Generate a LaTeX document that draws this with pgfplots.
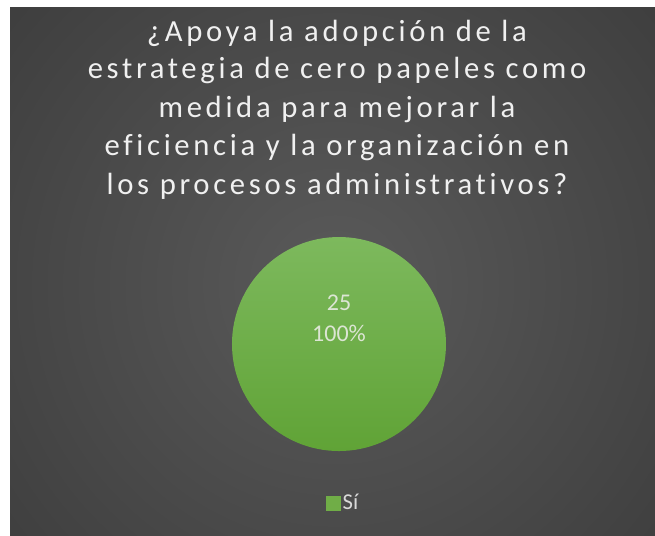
\documentclass[border=0pt]{standalone}
\usepackage{pgfplots}
\pgfplotsset{compat=1.18}
\usepackage{fontspec}
\setmainfont{Carlito}
\newfontfamily\titlefont[LetterSpace=12,Ligatures={NoCommon}]{Carlito}
\definecolor{bgIn}{HTML}{5A5A5A}
\definecolor{bgOut}{HTML}{242424}
\definecolor{pieTop}{HTML}{7DB95D}
\definecolor{pieBot}{HTML}{60A336}
\definecolor{pieMid}{HTML}{70AD47}
\definecolor{lblCol}{HTML}{DCE5D4}
\definecolor{txtCol}{HTML}{F0F0F0}
\definecolor{legCol}{HTML}{D9D9D9}
\pgfdeclareplotmark{shadedcircle}{%
  \shade[top color=pieTop, bottom color=pieBot, draw=none] (-0.01pt,-0.01pt) circle (\pgfplotmarksize);}
\begin{document}
\begin{tikzpicture}
\begin{scope}[x=0.75pt,y=-0.75pt]
\useasboundingbox (0,0) rectangle (655,535);
\fill[white] (0,0) rectangle (655,535);
\begin{scope}
\clip (10,8) rectangle (655,535);
\shade[inner color=bgIn, outer color=bgOut] (335,285) circle (840);
\end{scope}
\end{scope}
\begin{axis}[
  set layers,
  at={(254.25pt,-258pt)}, anchor=center,
  width=160.5pt, height=160.5pt, scale only axis,
  hide axis, xmin=-1, xmax=1, ymin=-1, ymax=1,
  clip=false,
  legend style={draw=none, fill=none, text=legCol, font=\fontsize{17}{20}\selectfont,
    at={(0.52,-0.243)}, anchor=center, inner sep=0pt},
  legend image code/.code={\fill[pieMid] (0pt,-5.25pt) rectangle (10.5pt,5.25pt);},
]
\addplot[only marks, mark=shadedcircle, mark size=80.25pt] coordinates {(0,0)};
\addlegendentry{Sí}
\begin{pgfonlayer}{axis foreground}
\node[text=lblCol, font=\fontsize{18}{20}\selectfont] at (axis cs:0,0.383) {25};
\node[text=lblCol, font=\fontsize{18}{20}\selectfont] at (axis cs:0,0.103) {100\%};
\end{pgfonlayer}
\end{axis}
\begin{scope}[x=0.75pt,y=-0.75pt]
\foreach \t/\yy in {{¿Apoya la adopción de la}/41.5, {estrategia de cero papeles como}/79, {medida para mejorar la}/117, {eficiencia y la organización en}/155, {los procesos administrativos?}/194}{
  \node[anchor=base, text=txtCol, font=\titlefont\fontsize{23}{27}\selectfont, inner sep=0pt] at (337,\yy) {\t};
}
\end{scope}
\end{tikzpicture}
\end{document}
